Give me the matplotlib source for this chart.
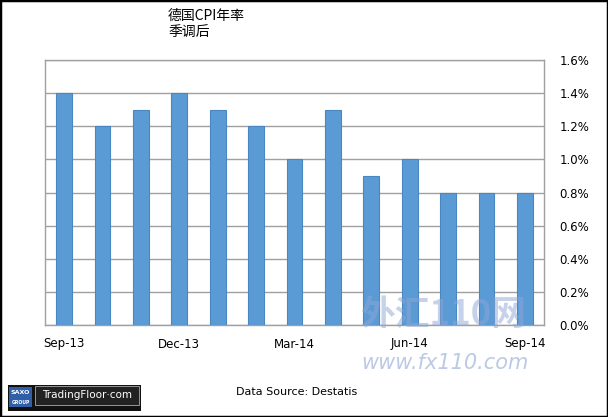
import matplotlib
matplotlib.use("Agg")
import matplotlib.pyplot as plt
from matplotlib.patches import Rectangle
from matplotlib.ticker import FuncFormatter, MultipleLocator

plt.rcParams['font.family'] = ['DejaVu Sans', 'Noto Sans CJK SC']

categories = ["Sep-13", "Oct-13", "Nov-13", "Dec-13", "Jan-14", "Feb-14", "Mar-14",
              "Apr-14", "May-14", "Jun-14", "Jul-14", "Aug-14", "Sep-14"]
values = [1.4, 1.2, 1.3, 1.4, 1.3, 1.2, 1.0, 1.3, 0.9, 1.0, 0.8, 0.8, 0.8]
tick_labels = ["Sep-13", "Dec-13", "Mar-14", "Jun-14", "Sep-14"]
title_lines = ["德国CPI年率", "季调后"]
source = "Data Source: Destatis"

W, H = 608, 417
fig = plt.figure(figsize=(W / 100, H / 100), dpi=100)
fig.patch.set_facecolor("white")

ax = fig.add_axes([45 / W, 1 - 325 / H, 499 / W, 265 / H])
x = list(range(len(categories)))
ax.bar(x, values, width=0.41, color="#5B9BD5", edgecolor="#4A86C0", linewidth=0.8, zorder=3)
ax.set_xlim(-0.5, len(categories) - 0.5)
ax.set_ylim(0, 1.6)
ax.yaxis.set_major_locator(MultipleLocator(0.2))
ax.yaxis.set_major_formatter(FuncFormatter(lambda v, p: f"{v:.1f}%"))
ax.yaxis.tick_right()
ax.grid(axis="y", color="#A0A0A0", linewidth=1.0, zorder=0)
ax.set_xticks([categories.index(t) for t in tick_labels])
ax.set_xticklabels(tick_labels)
ax.tick_params(axis="both", length=0, labelsize=8.5, colors="black")
ax.tick_params(axis="y", pad=11)
ax.tick_params(axis="x", pad=9)
for s in ax.spines.values():
    s.set_color("#A0A0A0")
    s.set_linewidth(1.0)

# title
fig.text(168 / W, 1 - 16 / H, title_lines[0], fontsize=10, family=["Noto Sans CJK SC"],
         va="center", ha="left")
fig.text(168 / W, 1 - 32 / H, title_lines[1], fontsize=10, family=["Noto Sans CJK SC"],
         va="center", ha="left")

# watermark
fig.text(443 / W, 1 - 314 / H, "外汇110网", fontsize=25, color="#8FA6D6", alpha=0.5,
         family=["Noto Sans CJK SC"], ha="center", va="center", weight="bold")
fig.text(445 / W, 1 - 363 / H, "www.fx110.com", fontsize=15, color="#8FA6D6", alpha=0.6,
         ha="center", va="center", style="italic")

# source
fig.text(297 / W, 1 - 392 / H, source, fontsize=8, ha="center", va="center")

# logo
fig.patches.append(Rectangle((8 / W, 1 - 411 / H), 133 / W, 26 / H, transform=fig.transFigure,
                             facecolor="#111111", edgecolor="none"))
fig.patches.append(Rectangle((9 / W, 1 - 407 / H), 23 / W, 20 / H, transform=fig.transFigure,
                             facecolor="#2E5FA8", edgecolor="none"))
fig.text(20.5 / W, 1 - 392 / H, "SAXO", fontsize=4.5, color="white", ha="center", va="center",
         weight="bold")
fig.text(20.5 / W, 1 - 402 / H, "GROUP", fontsize=3.3, color="white", ha="center", va="center",
         weight="bold")
fig.patches.append(Rectangle((35 / W, 1 - 405 / H), 104 / W, 19 / H, transform=fig.transFigure,
                             facecolor="#222222", edgecolor="#AAAAAA", linewidth=0.6))
fig.text(87 / W, 1 - 395.5 / H, "TradingFloor·com", fontsize=7.5, color="white", ha="center",
         va="center")

# outer frame
fig.patches.append(Rectangle((0, 0), 1, 1, transform=fig.transFigure, facecolor="none",
                             edgecolor="black", linewidth=2.5))

fig.savefig("out.png", dpi=100)
